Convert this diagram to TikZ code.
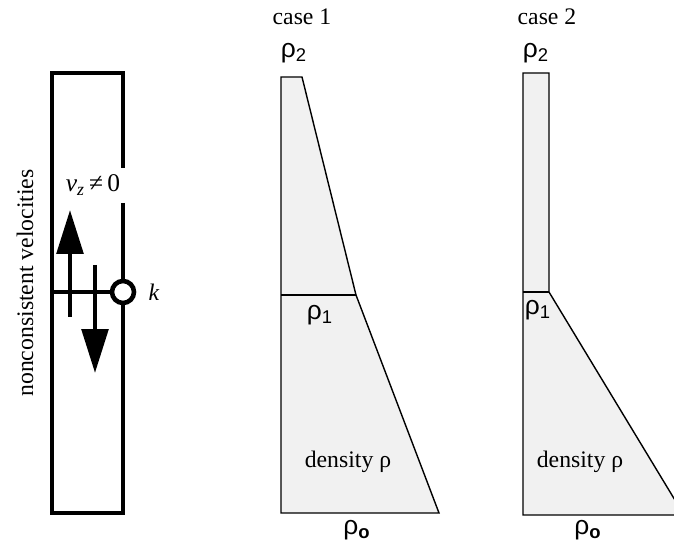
\documentclass[tikz,border=0pt]{standalone}
\usepackage{fontspec}
\setmainfont{Liberation Serif}
\newfontfamily\subfont{Liberation Sans}
\usetikzlibrary{arrows.meta,positioning}

\tikzset{
    wall/.style={line width=2.6pt},
    vel/.style={line width=2.6pt, -{Triangle[length=25pt,width=15pt]}},
    profile/.style={draw, line width=0.8pt, fill=gray!11},
    lbl/.style={font=\fontsize{13.5}{16}\selectfont, inner sep=0pt},
    rholbl/.style={font=\fontsize{15}{17}\subfont, inner sep=0pt}
}
\newcommand{\rhosub}[1]{ρ\textsubscript{#1}}

\begin{document}
\begin{tikzpicture}
    \useasboundingbox (0,0) rectangle (13.48,11);
    \clip (0,0) rectangle (13.48,11);

    % Column with nonconsistent velocities
    \coordinate (tl) at (1.04,9.54);
    \coordinate (tr) at (2.46,9.54);
    \coordinate (bl) at (1.04,0.74);
    \coordinate (br) at (2.46,0.74);
    \coordinate (gaptop) at (2.46,7.64);
    \coordinate (gapbot) at (2.46,6.94);
    \node[circle, draw, line width=2.6pt, fill=white, minimum size=0.44cm, inner sep=0pt] (k) at (2.46,5.16) {};
    \draw[wall] (gaptop) -- (tr) -- (tl) -- (bl) -- (br) -- (k.south);
    \draw[wall] (gapbot) -- (k.north);
    \draw[wall] (tl |- k) -- (k.west);

    % Velocity arrows
    \coordinate (upS) at (1.40,4.66);
    \coordinate (upE) at (1.40,6.80);
    \coordinate (dnS) at (1.90,5.70);
    \coordinate (dnE) at (1.90,3.54);
    \draw[vel] (upS) -- (upE);
    \draw[vel] (dnS) -- (dnE);

    \node[lbl, right=0.24cm of k] (klbl) {\textit{k}};
    \node[lbl, font=\fontsize{14.5}{16}\selectfont] (vz) at (1.86,7.30) {\textit{v}\textsubscript{\textit{z}}\,≠\,0};
    \node[lbl, rotate=90] (nonc) at (0.50,5.34) {nonconsistent velocities};

    % Case 1 density profile
    \coordinate (a1) at (5.62,9.46);
    \coordinate (b1) at (6.04,9.46);
    \coordinate (c1) at (7.12,5.10);
    \coordinate (d1) at (8.78,0.74);
    \coordinate (e1) at (5.62,0.74);
    \filldraw[profile] (a1) -- (b1) -- (c1) -- (d1) -- (e1) -- cycle;
    \draw[line width=0.8pt] (e1 |- c1) -- (c1);

    \node[lbl] (case1) at (6.04,10.66) {case 1};
    \node[rholbl] (r2a) at (5.88,9.94) {\rhosub{2}};
    \node[rholbl] (r1a) at (6.40,4.70) {\rhosub{1}};
    \node[lbl] (dens1) at (6.96,1.76) {density ρ};
    \node[rholbl] (r0a) at (7.14,0.40) {\rhosub{\textbf{o}}};

    % Case 2 density profile
    \coordinate (a2) at (10.46,9.54);
    \coordinate (b2) at (10.98,9.54);
    \coordinate (c2) at (10.98,5.16);
    \coordinate (d2) at (13.68,0.70);
    \coordinate (e2) at (10.46,0.70);
    \filldraw[profile] (a2) -- (b2) -- (c2) -- (d2) -- (e2) -- cycle;
    \draw[line width=0.8pt] (e2 |- c2) -- (c2);

    \node[lbl] (case2) at (10.94,10.66) {case 2};
    \node[rholbl] (r2b) at (10.72,9.94) {\rhosub{2}};
    \node[rholbl] (r1b) at (10.76,4.80) {\rhosub{1}};
    \node[lbl] (dens2) at (11.60,1.76) {density ρ};
    \node[rholbl] (r0b) at (11.76,0.40) {\rhosub{\textbf{o}}};
\end{tikzpicture}
\end{document}
